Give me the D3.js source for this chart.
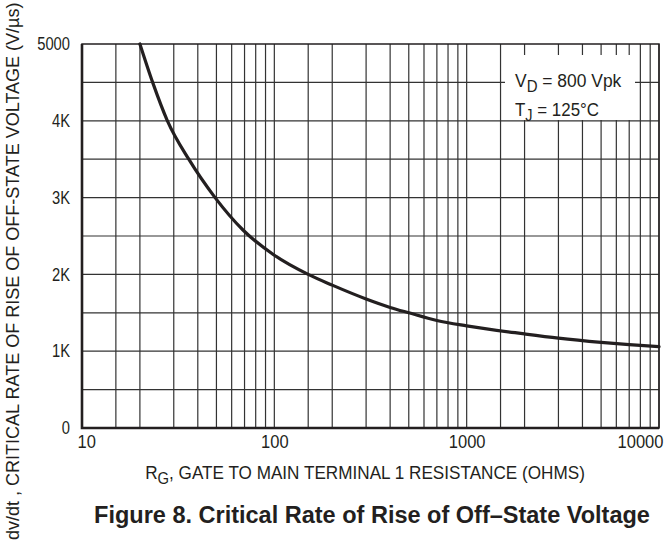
<!DOCTYPE html>
<html>
<head>
<meta charset="utf-8">
<script src="https://cdn.jsdelivr.net/npm/d3@7"></script>
<style>
  body { margin: 0; background: #fff; }
  svg { display: block; }
  text { font-family: "Liberation Sans Narrow", "Arial Narrow", "Liberation Sans", sans-serif; fill: #231f20; }
</style>
</head>
<body>
<svg id="chart" width="667" height="540"></svg>
<script>
// curve: gate resistance (ohms) vs dv/dt (V/us)
var resistance = [20, 23.3, 27.8, 35.9, 49.2, 68.7, 100, 150, 200, 300, 400, 500, 700, 1000, 2000, 3000, 5000, 7000, 10000];
var dvdt = [5000, 4500, 4000, 3500, 3000, 2578, 2250, 2000, 1860, 1680, 1570, 1500, 1400, 1330, 1225, 1170, 1115, 1085, 1060];

var xTicks = [10, 100, 1000, 10000];
var xTickLabels = ["10", "100", "1000", "10000"];
var yTicks = [0, 1000, 2000, 3000, 4000, 5000];
var yTickLabels = ["0", "1K", "2K", "3K", "4K", "5000"];
var minorSteps = [1.5, 2, 3, 4, 5, 6, 7, 8, 9, 10];

var margin = {top: 44, right: 8, bottom: 112, left: 82},
    width = 667,
    height = 540,
    innerW = width - margin.left - margin.right,
    innerH = height - margin.top - margin.bottom;

var svg = d3.select("#chart");
var g = svg.append("g")
    .attr("transform", "translate(" + margin.left + "," + margin.top + ")");

var x = d3.scaleLog().domain([10, 10000]).range([0, innerW]);
var y = d3.scaleLinear().domain([0, 5000]).range([innerH, 0]);

// the figure uses a condensed face; squeeze regular text to the measured width
function fitText(parent, px, py, anchor, size, target, build) {
    var holder = parent.append("g");
    var t = holder.append("text")
        .attr("text-anchor", anchor)
        .style("font-size", size + "px");
    build(t);
    var w = t.node().getBBox().width;
    var f = target / w;
    holder.attr("transform", "translate(" + px + "," + py + ") scale(" + f + ",1)");
    return holder;
}

// grid lines
var vLines = [];
[10, 100, 1000].forEach(function(dec) {
    minorSteps.forEach(function(s) { vLines.push(dec * s); });
});
var hLines = d3.range(500, 5000, 500);

g.selectAll(".vgrid").data(vLines).enter().append("line")
    .attr("class", "vgrid")
    .attr("x1", function(d) { return x(d); })
    .attr("x2", function(d) { return x(d); })
    .attr("y1", 0).attr("y2", innerH)
    .attr("stroke", "#333").attr("stroke-width", 1.2);

g.selectAll(".hgrid").data(hLines).enter().append("line")
    .attr("class", "hgrid")
    .attr("x1", 0).attr("x2", innerW)
    .attr("y1", function(d) { return y(d); })
    .attr("y2", function(d) { return y(d); })
    .attr("stroke", "#333").attr("stroke-width", 1.2);

// legend box blanks out the grid behind it
g.append("rect")
    .attr("x", 505 - margin.left).attr("y", 55 - margin.top)
    .attr("width", 130).attr("height", 65)
    .attr("fill", "#fff");

// frame
g.append("rect")
    .attr("width", innerW).attr("height", innerH)
    .attr("fill", "none").attr("stroke", "#231f20").attr("stroke-width", 1.5);
g.append("path")
    .attr("d", "M0,0V" + innerH + "H" + innerW)
    .attr("fill", "none").attr("stroke", "#231f20").attr("stroke-width", 2.6);

// curve
var line = d3.line()
    .x(function(d) { return x(d[0]); })
    .y(function(d) { return y(d[1]); })
    .curve(d3.curveMonotoneX);

g.append("path")
    .datum(d3.zip(resistance, dvdt))
    .attr("d", line)
    .attr("fill", "none")
    .attr("stroke", "#231f20")
    .attr("stroke-width", 3.2)
    .attr("stroke-linecap", "round");

// axes
var xSq = 0.87, ySq = 0.82;
var xAxis = d3.axisBottom(x)
    .tickValues(xTicks)
    .tickSize(0)
    .tickPadding(7)
    .tickFormat(function(d, i) { return xTickLabels[i]; });

var yAxis = d3.axisLeft(y)
    .tickValues(yTicks)
    .tickSize(0)
    .tickFormat(function(d, i) { return yTickLabels[i]; });

var gx = g.append("g")
    .attr("transform", "translate(0," + innerH + ")")
    .call(xAxis);
gx.select(".domain").remove();
gx.selectAll("text")
    .attr("font-family", null)
    .style("font-size", "19px")
    .attr("transform", "scale(" + xSq + ",1)");
gx.selectAll(".tick").filter(function(d) { return d === 10; })
    .select("text").attr("text-anchor", "start").attr("x", -5 / xSq);
gx.selectAll(".tick").filter(function(d) { return d === 10000; })
    .select("text").attr("text-anchor", "end").attr("x", 4 / xSq);

var gy = g.append("g").call(yAxis);
gy.select(".domain").remove();
gy.selectAll("text")
    .attr("font-family", null)
    .style("font-size", "18px")
    .attr("x", -12 / ySq)
    .attr("transform", "scale(" + ySq + ",1)");

// legend
fitText(svg, 515, 87, "start", 18.6, 107, function(t) {
    t.append("tspan").text("V");
    t.append("tspan").attr("dy", 5).style("font-size", "16px").text("D");
    t.append("tspan").attr("dy", -5).text(" = 800 Vpk");
});
fitText(svg, 515, 116, "start", 18.6, 84, function(t) {
    t.append("tspan").text("T");
    t.append("tspan").attr("dy", 5).style("font-size", "16px").text("J");
    t.append("tspan").attr("dy", -5).text(" = 125°C");
});

// axis titles
fitText(svg, 365, 479, "middle", 18.5, 440, function(t) {
    t.append("tspan").text("R");
    t.append("tspan").attr("dy", 5).style("font-size", "16px").text("G");
    t.append("tspan").attr("dy", -5).text(", GATE TO MAIN TERMINAL 1 RESISTANCE (OHMS)");
});

var yl = svg.append("g").attr("transform", "translate(19,540) rotate(-90)");
fitText(yl, 0, 0, "start", 18.5, 538, function(t) {
    t.text("dv/dt , CRITICAL RATE OF RISE OF OFF-STATE VOLTAGE (V/µs)");
});

svg.append("text")
    .attr("x", 372).attr("y", 523)
    .attr("text-anchor", "middle")
    .style("font-family", "'Liberation Sans', Arial, sans-serif")
    .style("font-weight", "bold")
    .style("font-size", "23.5px")
    .text("Figure 8. Critical Rate of Rise of Off\u2013State Voltage");
</script>
</body>
</html>
